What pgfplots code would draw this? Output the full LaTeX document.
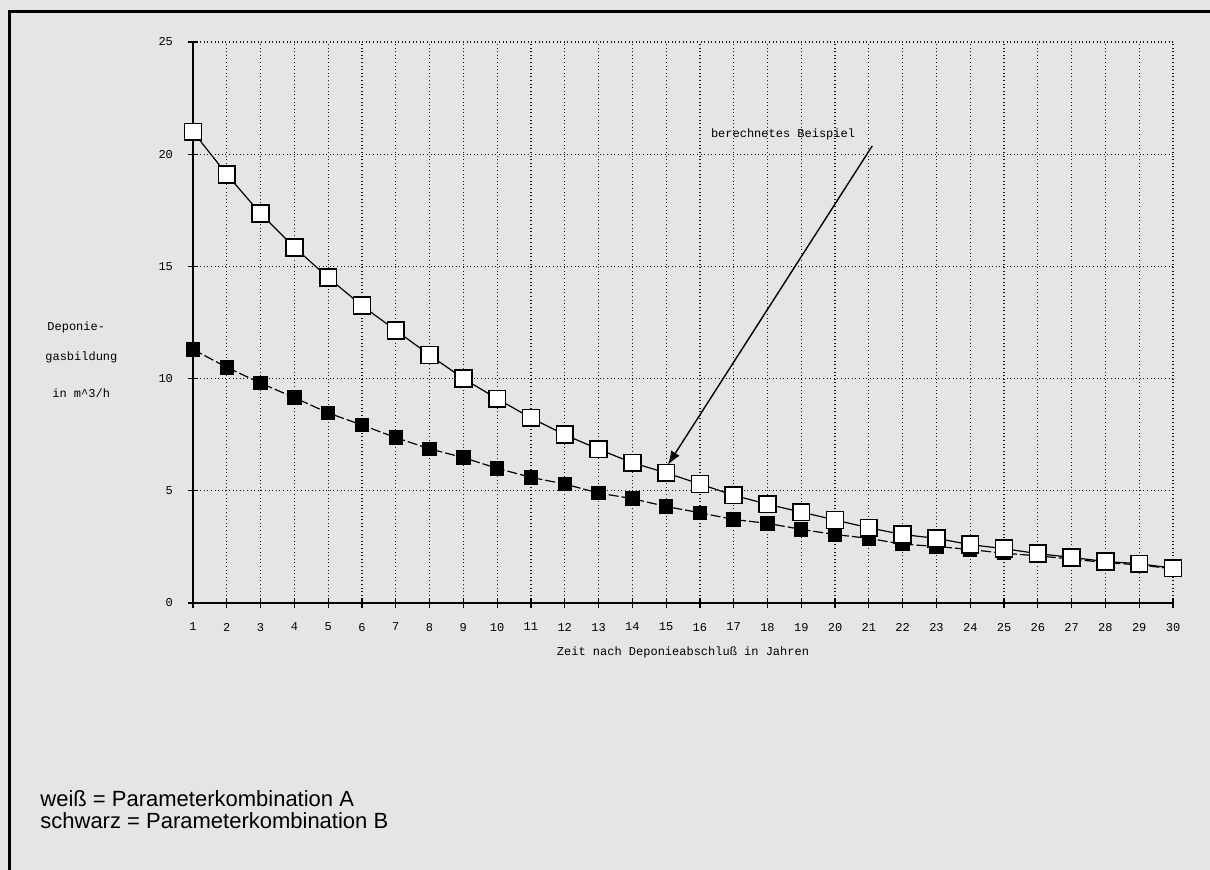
\documentclass[border=0pt]{standalone}
\usepackage{fontspec}
\setmainfont{Liberation Sans}
\newfontfamily\dotfont{Liberation Mono}
\usepackage{pgfplots}
\pgfplotsset{compat=1.18}
\usetikzlibrary{arrows.meta}
\pgfplotstableread{
x y
1 21.0
2 19.1
3 17.35
4 15.85
5 14.5
6 13.25
7 12.15
8 11.05
9 10.0
10 9.1
11 8.25
12 7.5
13 6.85
14 6.25
15 5.8
16 5.3
17 4.8
18 4.4
19 4.05
20 3.7
21 3.35
22 3.05
23 2.88
24 2.6
25 2.42
26 2.2
27 2.03
28 1.85
29 1.75
30 1.55
}\seriesA
\pgfplotstableread{
x y
1 11.3
2 10.5
3 9.8
4 9.15
5 8.47
6 7.93
7 7.37
8 6.87
9 6.48
10 6.0
11 5.6
12 5.3
13 4.9
14 4.65
15 4.3
16 4.02
17 3.72
18 3.55
19 3.28
20 3.05
21 2.88
22 2.62
23 2.52
24 2.38
25 2.22
26 2.1
27 1.96
28 1.8
29 1.7
30 1.52
}\seriesB
\begin{document}
\begin{tikzpicture}
\fill[black!10] (0pt,0pt) rectangle (605pt,435pt);
\useasboundingbox (0pt,0pt) rectangle (605pt,435pt);
\draw[line width=1.5pt] (4.5pt,0pt) -- (4.5pt,429pt) -- (605pt,429pt);
\begin{axis}[
  at={(96.5pt,133.5pt)}, anchor=south west,
  scale only axis, width=490pt, height=280.5pt,
  xmin=1, xmax=30, ymin=0, ymax=25,
  axis x line=bottom, axis y line=left,
  axis line style={-, line width=0.6pt},
  xtick={1,...,30}, ytick={0,5,...,25},
  grid=major,
  major grid style={black!90, line width=0.6pt, dash pattern=on 0.5pt off 1.3pt},
  tick style={black, line width=0.6pt},
  tick align=center, major tick length=5pt,
  ticklabel style={font=\dotfont\fontsize{6}{7}\selectfont},
  /pgf/number format/assume math mode=true,
  xticklabel shift=4pt, yticklabel shift=4pt,
  xlabel={Zeit nach Deponieabschluß in Jahren},
  xlabel style={font=\dotfont\fontsize{6}{7}\selectfont, at={(axis description cs:0.5,0)}, anchor=center, yshift=-24.5pt},
  clip=false,
]
\addplot[black, line width=0.6pt, dash pattern=on 5pt off 1.5pt, mark=square*, mark size=3.3pt, mark options={solid, fill=black}] table[x=x,y=y] {\seriesB};
\addplot[black, line width=0.6pt, mark=square*, mark size=4.2pt, mark options={solid, fill=white, line width=0.8pt}] table[x=x,y=y] {\seriesA};
\draw[line width=0.7pt, -{Latex[length=7pt,width=5pt]}] (axis cs:21.1,20.37) -- (axis cs:15.05,6.15);
\node[font=\dotfont\fontsize{6}{7}\selectfont] at (axis cs:18.46,20.9) {berechnetes Beispiel};
\end{axis}
\node[anchor=base west, inner sep=0pt, font=\dotfont\fontsize{6}{7}\selectfont] at (23.5pt,269.5pt) {Deponie-};
\node[anchor=base west, inner sep=0pt, font=\dotfont\fontsize{6}{7}\selectfont] at (22.5pt,254.5pt) {gasbildung};
\node[anchor=base west, inner sep=0pt, font=\dotfont\fontsize{6}{7}\selectfont] at (26pt,236pt) {in m\textasciicircum 3/h};
\node[anchor=base west, font=\fontsize{11}{11}\selectfont, inner sep=0pt] at (20pt,31.5pt) {weiß = Parameterkombination A};
\node[anchor=base west, font=\fontsize{11}{11}\selectfont, inner sep=0pt] at (20pt,20.5pt) {schwarz = Parameterkombination B};
\end{tikzpicture}
\end{document}
